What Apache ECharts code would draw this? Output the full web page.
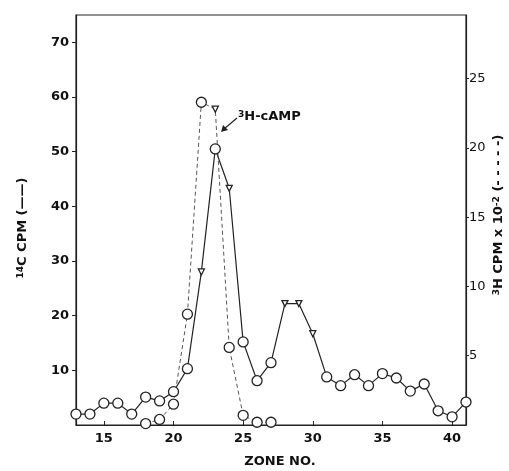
<!DOCTYPE html>
<html>
<head>
<meta charset="utf-8">
<script src="https://cdn.jsdelivr.net/npm/echarts@6/dist/echarts.min.js"></script>
<style>
  html, body { margin: 0; padding: 0; background: #fff; }
  #chart { width: 509px; height: 471px; }
</style>
</head>
<body>
<div id="chart"></div>
<script>
var zones = [13, 14, 15, 16, 17, 18, 19, 20, 21, 22, 23, 24, 25, 26, 27,
  28, 29, 30, 31, 32, 33, 34, 35, 36, 37, 38, 39, 40, 41];
// 14C CPM (left axis, solid line)
var c14 = [2.0, 2.0, 4.0, 4.0, 2.0, 5.1, 4.4, 6.1, 10.3, 28.0, 50.5, 43.3, 15.2, 8.1, 11.4,
  22.2, 22.2, 16.7, 8.8, 7.2, 9.2, 7.2, 9.4, 8.6, 6.2, 7.5, 2.6, 1.5, 4.2];
var c14Marks = ['o', 'o', 'o', 'o', 'o', 'o', 'o', 'o', 'o', 't', 'o', 't', 'o', 'o', 'o',
  't', 't', 't', 'o', 'o', 'o', 'o', 'o', 'o', 'o', 'o', 'o', 'o', 'o'];
// 3H CPM x 10^-2 (right axis, dashed line)
var h3 = [null, null, null, null, null, 0.1, 0.4, 1.5, 8.0, 23.3, 22.8, 5.6, 0.7, 0.2, 0.2,
  null, null, null, null, null, null, null, null, null, null, null, null, null, null];
var h3Marks = ['o', 'o', 'o', 'o', 'o', 'o', 'o', 'o', 'o', 'o', 't', 'o', 'o', 'o', 'o',
  'o', 'o', 'o', 'o', 'o', 'o', 'o', 'o', 'o', 'o', 'o', 'o', 'o', 'o'];

var xTicks = [15, 20, 25, 30, 35, 40];
var leftTicks = [10, 20, 30, 40, 50, 60, 70];
var rightTicks = [5, 10, 15, 20, 25];

var font = 'DejaVu Sans';

function points(vals, marks) {
  var out = [];
  for (var i = 0; i < zones.length; i++) {
    if (vals[i] == null) { out.push([zones[i], null]); continue; }
    var tri = marks[i] === 't';
    out.push({
      value: [zones[i], vals[i]],
      symbol: tri ? 'triangle' : 'circle',
      symbolSize: tri ? 6 : 10,
      symbolRotate: tri ? 180 : 0
    });
  }
  return out;
}

var chart = echarts.init(document.getElementById('chart'));

var option = {
  backgroundColor: '#fff',
  animation: false,
  grid: {
    left: 76, right: 43, top: 15, bottom: 46,
    show: true, borderColor: '#222', borderWidth: 1.2, backgroundColor: 'transparent'
  },
  xAxis: {
    type: 'value', min: 13, max: 41,
    axisLine: { lineStyle: { color: '#222', width: 1.2 } },
    axisTick: { inside: true, length: 4, customValues: xTicks, lineStyle: { color: '#222' } },
    axisLabel: {
      customValues: xTicks, margin: 7,
      fontFamily: font, fontWeight: 'bold', fontSize: 13, color: '#111'
    },
    splitLine: { show: false }
  },
  yAxis: [
    {
      type: 'value', min: 0, max: 75, position: 'left',
      axisLine: { show: true, lineStyle: { color: '#222', width: 1.2 } },
      axisTick: { show: true, length: 4, customValues: leftTicks, lineStyle: { color: '#222' } },
      axisLabel: {
        customValues: leftTicks, margin: 7,
        fontFamily: font, fontWeight: 'bold', fontSize: 13, color: '#111'
      },
      splitLine: { show: false }
    },
    {
      type: 'value', min: 0, max: 29.6, position: 'right',
      axisLine: { show: true, lineStyle: { color: '#222', width: 1.2 } },
      axisTick: { show: true, length: 3, customValues: rightTicks, lineStyle: { color: '#222' } },
      axisLabel: {
        customValues: rightTicks, margin: 3,
        fontFamily: font, fontSize: 13, color: '#111'
      },
      splitLine: { show: false }
    }
  ],
  series: [
    {
      name: '14C', type: 'line', yAxisIndex: 0,
      data: points(c14, c14Marks),
      lineStyle: { color: '#222', width: 1.2 },
      itemStyle: { color: '#fff', borderColor: '#222', borderWidth: 1.3 },
      showAllSymbol: true
    },
    {
      name: '3H', type: 'line', yAxisIndex: 1,
      data: points(h3, h3Marks),
      connectNulls: false,
      lineStyle: { color: '#555', width: 1, type: [4, 3] },
      itemStyle: { color: '#fff', borderColor: '#222', borderWidth: 1.3 },
      showAllSymbol: true
    }
  ],
  graphic: [
    {
      type: 'text', x: 23, y: 228, rotation: Math.PI / 2,
      style: {
        text: '{s|14}C CPM (——)', align: 'center', verticalAlign: 'middle',
        font: 'bold 13px "DejaVu Sans"', fill: '#111',
        rich: { s: { fontSize: 9, fontWeight: 'bold', fontFamily: font, verticalAlign: 'top', fill: '#111' } }
      }
    },
    {
      type: 'text', x: 499, y: 215, rotation: Math.PI / 2,
      style: {
        text: '{s|3}H CPM x 10{s|-2} (- - - - -)', align: 'center', verticalAlign: 'middle',
        font: 'bold 13px "DejaVu Sans"', fill: '#111',
        rich: { s: { fontSize: 9, fontWeight: 'bold', fontFamily: font, verticalAlign: 'top', fill: '#111' } }
      }
    },
    {
      type: 'text', x: 280, y: 462,
      style: {
        text: 'ZONE NO.', align: 'center', verticalAlign: 'middle',
        font: 'bold 13px "DejaVu Sans"', fill: '#111'
      }
    },
    {
      type: 'text', x: 238, y: 117,
      style: {
        text: '{s|3}H-cAMP', align: 'left', verticalAlign: 'middle',
        font: 'bold 13px "DejaVu Sans"', fill: '#111',
        rich: { s: { fontSize: 9, fontWeight: 'bold', fontFamily: font, verticalAlign: 'top', fill: '#111' } }
      }
    },
    {
      type: 'line', shape: { x1: 237, y1: 118, x2: 224, y2: 129 },
      style: { stroke: '#222', lineWidth: 1.2 }
    },
    {
      type: 'polygon', shape: { points: [[221, 132], [223, 125], [228, 130]] },
      style: { fill: '#222' }
    }
  ]
};

chart.setOption(option);
</script>
</body>
</html>
